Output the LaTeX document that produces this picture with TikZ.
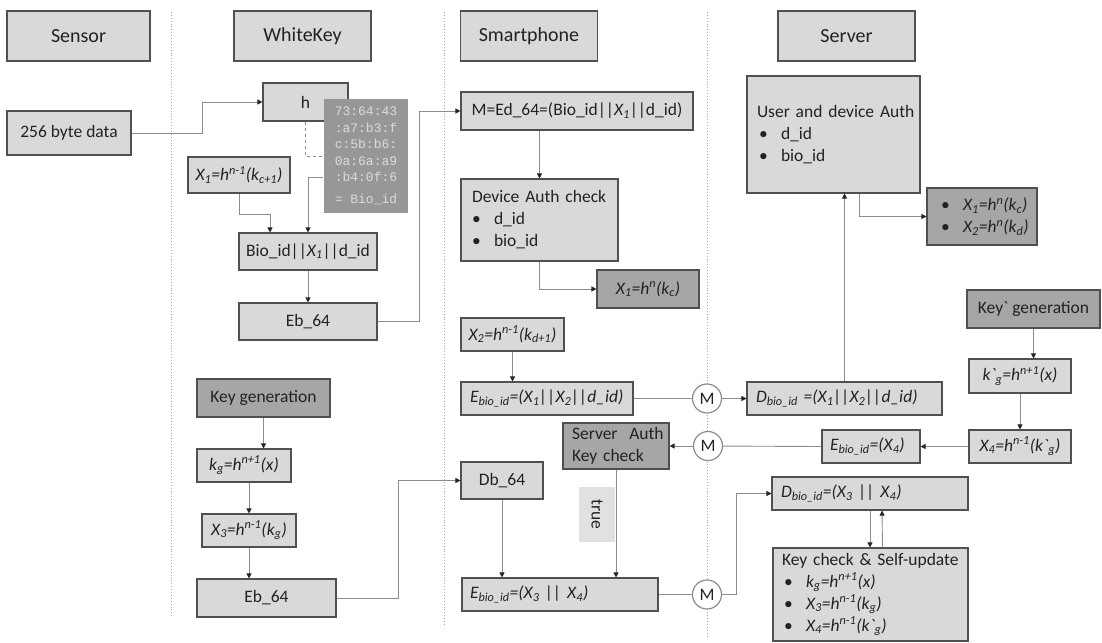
\documentclass[tikz,border=0pt]{standalone}
\usepackage{fontspec}
\setmainfont{Carlito}
\newfontfamily\monof{Liberation Mono}
\usetikzlibrary{arrows.meta,calc}
\definecolor{lightf}{HTML}{D9D9D9}
\definecolor{darkf}{HTML}{A6A6A6}
\definecolor{hashf}{HTML}{979797}
\definecolor{hasht}{HTML}{DCDCDC}
\definecolor{edgec}{HTML}{505050}
\definecolor{connc}{HTML}{8C8C8C}
\definecolor{txtc}{HTML}{222222}
\definecolor{sepc}{HTML}{A8A8A8}
\newcommand\bul{\makebox[22pt][l]{\textbullet}}
\begin{document}
\begin{tikzpicture}[x=1pt,y=-1pt,
  box/.style={draw=edgec, line width=1.1pt, fill=lightf, inner sep=0pt, text=txtc, font=\fontsize{17.5}{22}\selectfont},
  dbox/.style={box, fill=darkf},
  hdr/.style={box, minimum width=137, minimum height=50, font=\fontsize{20}{24}\selectfont},
  lbox/.style={box, align=left},
  mc/.style={circle, draw=connc, line width=1.2pt, fill=white, minimum size=29, inner sep=0pt, text=txtc, font=\fontsize{17.5}{22}\selectfont},
  sepl/.style={draw=sepc, dotted, line width=0.9pt},
  conn/.style={draw=connc, line width=0.9pt},
  arr/.style={conn, -{Triangle[length=5pt,width=5pt,color=black!85]}}
]
\useasboundingbox (0,0) rectangle (1102,642);
% separators
\draw[sepl] (171,12) -- (171,616);
\draw[sepl] (444,12) -- (444,626);
\draw[sepl] (707,12) -- (707,636);
% headers
\node[hdr, minimum width=143] (hsensor) at (78.5,36) {Sensor};
\node[hdr] (hwk) at (302.5,36) {WhiteKey};
\node[hdr] (hsp) at (529,36) {Smartphone};
\node[hdr] (hsv) at (846.5,36) {Server};
% sensor / whitekey
\node[box, minimum width=124, minimum height=44] (data) at (69,133) {256 byte data};
\node[box, minimum width=85, minimum height=38] (h) at (305.5,102) {h};
\node[box, draw=none, fill=hashf, minimum width=84, minimum height=114, text=hasht, align=left, font=\monof\fontsize{13}{16.5}\selectfont] (hash) at (366,156) {73:64:43\\:a7:b3:f\\c:5b:b6:\\0a:6a:a9\\:b4:0f:6\\[5pt]= Bio\_id};
\node[box, minimum width=102, minimum height=36] (x1a) at (239,175) {\textit{X\textsubscript{1}=h\textsuperscript{n-1}(k\textsubscript{c+1})}};
\node[box, minimum width=138, minimum height=37] (bio) at (308,251.5) {Bio\_id||\textit{X\textsubscript{1}}||d\_id};
\node[box, minimum width=138, minimum height=37] (eb1) at (308,321.5) {Eb\_64};
\node[dbox, minimum width=133, minimum height=38] (keyg1) at (263.5,398) {Key generation};
\node[box, minimum width=94, minimum height=33] (kg1) at (244,465.5) {\textit{k\textsubscript{g}=h\textsuperscript{n+1}(x)}};
\node[box, minimum width=94, minimum height=33] (x3) at (249,530.5) {\textit{X\textsubscript{3}=h\textsuperscript{n-1}(k\textsubscript{g})}};
\node[box, minimum width=139, minimum height=38] (eb2) at (266.5,598) {Eb\_64};
% smartphone
\node[box, minimum width=232, minimum height=38] (M) at (577,111) {M=Ed\_64=(Bio\_id||\textit{X\textsubscript{1}}||d\_id)};
\node[lbox, text width=135, inner xsep=11, minimum height=82] (dev) at (539.5,220) {Device Auth check\\\bul d\_id\\\bul bio\_id};
\node[dbox, minimum width=102, minimum height=38] (x1c) at (648,289) {\textit{X\textsubscript{1}=h\textsuperscript{n}(k\textsubscript{c})}};
\node[box, minimum width=103, minimum height=33] (x2) at (512.5,334.5) {\textit{X\textsubscript{2}=h\textsuperscript{n-1}(k\textsubscript{d+1})}};
\node[lbox, text width=154, inner xsep=9, minimum height=33] (ebio1) at (547,398.5) {\textit{E\textsubscript{bio\_id}=(X\textsubscript{1}||X\textsubscript{2}||d\_id)}};
\node[lbox, fill=darkf, text width=88, inner xsep=9, minimum height=46] (srv) at (616,446) {Server~~Auth\\Key check};
\node[box, minimum width=82, minimum height=37] (db) at (502,480.5) {Db\_64};
\node[box, draw=none, fill=lightf!80!white, rotate=-90, minimum width=55, minimum height=36] (true) at (597,514.5) {true};
\node[lbox, text width=180, inner xsep=8, minimum height=33] (ebio3) at (560,594.5) {\textit{E\textsubscript{bio\_id}=(X\textsubscript{3} || X\textsubscript{4})}};
% M circles
\node[mc] (m1) at (707,398.5) {M};
\node[mc] (m2) at (708,446) {M};
\node[mc] (m3) at (707,594.5) {M};
% server
\node[lbox, text width=165, inner xsep=4, minimum height=117] (user) at (833.5,134.5) {\hspace*{6pt}\mbox{User and device Auth}\\\hspace*{8pt}\bul d\_id\\\hspace*{8pt}\bul bio\_id};
\node[lbox, fill=darkf, text width=90, inner xsep=10, minimum height=57] (x12) at (982,216.5) {\hspace*{4pt}\bul\textit{X\textsubscript{1}=h\textsuperscript{n}(k\textsubscript{c})}\\\hspace*{4pt}\bul\textit{X\textsubscript{2}=h\textsuperscript{n}(k\textsubscript{d})}};
\node[dbox, minimum width=133, minimum height=38] (keyg2) at (1033.5,309) {Key\textasciigrave{} generation};
\node[box, minimum width=102, minimum height=34] (kg2) at (1020,376) {\textit{k\textasciigrave\textsubscript{g}=h\textsuperscript{n+1}(x)}};
\node[box, minimum width=102, minimum height=33] (x4) at (1020,446.5) {\textit{X\textsubscript{4}=h\textsuperscript{n-1}(k\textasciigrave\textsubscript{g})}};
\node[lbox, text width=177, inner xsep=9, minimum height=33] (dbio1) at (844.5,398.5) {\textit{D\textsubscript{bio\_id} =(X\textsubscript{1}||X\textsubscript{2}||d\_id)}};
\node[lbox, text width=82, inner xsep=8, minimum height=33] (ebio4) at (871,446.5) {\textit{E\textsubscript{bio\_id}=(X\textsubscript{4})}};
\node[lbox, text width=178, inner xsep=9, minimum height=33] (dbio2) at (870,493.5) {\textit{D\textsubscript{bio\_id}=(X\textsubscript{3} || X\textsubscript{4})}};
\node[lbox, text width=177, inner xsep=9, minimum height=93] (kc) at (870.5,594.5) {Key check \& Self-update\\\hspace*{2pt}\bul\textit{k\textsubscript{g}=h\textsuperscript{n+1}(x)}\\\hspace*{2pt}\bul\textit{X\textsubscript{3}=h\textsuperscript{n-1}(k\textsubscript{g})}\\\hspace*{2pt}\bul\textit{X\textsubscript{4}=h\textsuperscript{n-1}(k\textasciigrave\textsubscript{g})}};
% connectors
\draw[arr] (data.east) -- ++(71,0) |- (h.west);
\draw[conn, dashed] (h.south) |- (hash.west);
\draw[arr] (x1a.south) -- ++(0,21) -| ($(bio.north)+(-38,0)$);
\draw[arr] ($(hash.west)+(0,21)$) -| (bio.north);
\draw[arr] (bio.south) -- (eb1.north);
\draw[arr] (eb1.east) -- ++(42,0) |- (M.west);
\draw[arr] (M.south -| dev.north) -- (dev.north);
\draw[arr] (dev.south) |- (x1c.west);
\draw[arr] (x2.south) -- (x2.south |- ebio1.north);
\draw[conn] (ebio1.east) -- (m1);
\draw[arr] (m1) -- (dbio1.west);
\draw[arr] (dbio1.north) -- (dbio1.north |- user.south);
\draw[arr] ($(user.south west)+(113,0)$) |- (x12.west);
\draw[arr] (keyg2.south) -- (keyg2.south |- kg2.north);
\draw[arr] (kg2.south) -- (x4.north);
\draw[arr] (x4.west) -- (ebio4.east);
\draw[conn] (ebio4.west) -- (m2);
\draw[arr] (m2) -- (srv.east);
\draw[arr] (keyg1.south) -- (keyg1.south |- kg1.north);
\draw[arr] (x3.north |- kg1.south) -- (x3.north);
\draw[arr] (x3.south) -- (x3.south |- eb2.north);
\draw[arr] (eb2.east) -- ++(62,0) |- (db.west);
\draw[arr] (db.south) -- (db.south |- ebio3.north);
\draw[arr] (srv.south) -- (srv.south |- ebio3.north);
\draw[conn] (ebio3.east) -- (m3);
\draw[arr] (m3.east) -- ++(14.5,0) |- (dbio2.west);
\draw[arr] (dbio2.south) -- (dbio2.south |- kc.north);
\draw[arr] ($(kc.north)+(12,0)$) -- ($(dbio2.south)+(12,0)$);
\end{tikzpicture}
\end{document}
